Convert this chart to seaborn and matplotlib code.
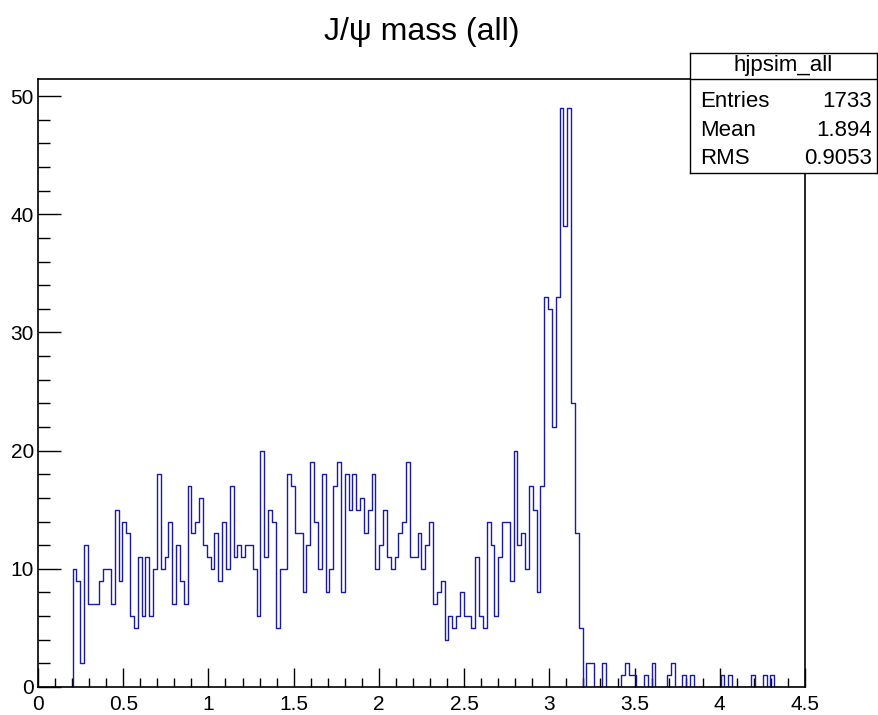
import numpy as np
import pandas as pd
import matplotlib
matplotlib.use("Agg")
import matplotlib.pyplot as plt
import seaborn as sns

# Histogram definition: 200 bins on [0, 4.5]
x_low, x_high, n_bins = 0.0, 4.5, 200
first_filled_bin = 9

# Bin contents, starting at bin index 9 (m = 0.2025)
counts_a = [10, 9, 2, 12, 7, 7, 7, 9, 10, 10, 7, 15, 9, 14, 13, 6, 5, 11, 6, 11,
            6, 10, 18, 10, 11, 14, 7, 12, 9, 7]
counts_b = [17, 13, 14, 16, 12, 11, 10, 13, 9, 14, 10, 17, 11, 12, 11, 12, 12, 10,
            6, 20, 11, 15, 14, 5, 10, 10, 18, 17, 13, 13, 8, 12, 19]
counts_c = [14, 10, 18, 8, 10, 17, 19, 8, 18, 15, 18, 15, 16, 13, 15, 18, 10, 12,
            15, 11, 10, 11, 13, 14, 19, 11, 11, 13, 10, 12, 14, 7]
counts_d = [8, 9, 4, 6, 5, 6, 8, 6, 6, 5, 11, 6, 5, 14, 12, 6, 11, 14, 14, 9, 20,
            12, 13, 10, 17, 15, 8, 17]
counts_peak = [33, 32, 22, 33, 49, 39, 49, 24, 13, 5]
counts_tail = [0, 2, 2, 0, 0, 2, 0, 0, 0, 0, 1, 2, 1, 1, 0, 0, 1, 0, 2, 0,
               0, 0, 1, 2, 0, 0, 1, 0, 1, 0, 0, 0, 0, 0, 0, 0, 1, 0, 1, 0,
               0, 0, 0, 0, 1, 0, 0, 1, 0, 1]

x_ticks = [0, 0.5, 1, 1.5, 2, 2.5, 3, 3.5, 4, 4.5]
x_tick_labels = ["0", "0.5", "1", "1.5", "2", "2.5", "3", "3.5", "4", "4.5"]
y_ticks = [0, 10, 20, 30, 40, 50]

title_text = "J/\u03c8 mass (all)"
stats_name = "hjpsim_all"
stats_labels = ["Entries", "Mean", "RMS"]
stats_values = ["1733", "1.894", "0.9053"]

counts = counts_a + counts_b + counts_c + counts_d + counts_peak + counts_tail
edges = np.linspace(x_low, x_high, n_bins + 1)
width = edges[1] - edges[0]
centers = edges[first_filled_bin:first_filled_bin + len(counts)] + width / 2
df = pd.DataFrame({"mass": centers, "n": counts})

sns.set_style("white")
plt.rcParams["font.family"] = ["Liberation Sans", "DejaVu Sans"]

W, H = 879, 715
fig = plt.figure(figsize=(W / 100, H / 100), dpi=100)
fig.patch.set_facecolor("white")

left, right, top, bottom = 38, 805, 79, 687
ax = fig.add_axes([left / W, 1 - bottom / H, (right - left) / W, (bottom - top) / H])

line_color = "#1a1aaa"
sns.histplot(data=df, x="mass", weights="n", bins=edges.tolist(), element="step",
             fill=False, color=line_color, linewidth=1.0, ax=ax)

ax.set_xlim(x_low, x_high)
ax.set_ylim(0, 1.05 * max(counts))
ax.set_xlabel("")
ax.set_ylabel("")

ax.set_xticks(x_ticks)
ax.set_xticklabels(x_tick_labels)
ax.set_xticks(np.arange(0, 4.5001, 0.1), minor=True)
ax.set_yticks(y_ticks)
ax.set_yticks(np.arange(0, 51, 2), minor=True)

ax.tick_params(axis="both", which="both", direction="in", colors="black",
               labelsize=15, bottom=True, left=True, top=False, right=False)
ax.tick_params(axis="x", which="major", length=13.5, width=1.0, pad=5.5)
ax.tick_params(axis="x", which="minor", length=6.5, width=1.0)
ax.tick_params(axis="y", which="major", length=16.5, width=1.0, pad=3)
ax.tick_params(axis="y", which="minor", length=8.5, width=1.0)
for sp in ax.spines.values():
    sp.set_visible(True)
    sp.set_color("black")
    sp.set_linewidth(1.2)
    sp.set_zorder(5)

fig.text((left + right) / 2 / W, 1 - 32 / H, title_text, ha="center",
         va="center", fontsize=23, color="black")

# Statistics box
bx0, bx1, by0, by1 = 690, 877, 53, 173
sax = fig.add_axes([bx0 / W, 1 - by1 / H, (bx1 - bx0) / W, (by1 - by0) / H])
sax.set_xlim(0, 1)
sax.set_ylim(0, 1)
sax.set_xticks([])
sax.set_yticks([])
sax.set_facecolor("white")
for sp in sax.spines.values():
    sp.set_visible(True)
    sp.set_color("black")
    sp.set_linewidth(1.0)
div_y = 1 - (78.5 - by0) / (by1 - by0)
sax.axhline(div_y, color="black", linewidth=1.0)
sax.text(0.5, 1 - (66 - by0) / (by1 - by0), stats_name, ha="center",
         va="center", fontsize=16, color="black")
row_y = [101.5, 130, 158]
for lab, val, yy in zip(stats_labels, stats_values, row_y):
    yf = 1 - (yy - by0) / (by1 - by0)
    sax.text(0.053, yf, lab, ha="left", va="center", fontsize=16, color="black")
    sax.text(0.972, yf, val, ha="right", va="center", fontsize=16, color="black")

fig.savefig("out.png", dpi=100, facecolor="white")
